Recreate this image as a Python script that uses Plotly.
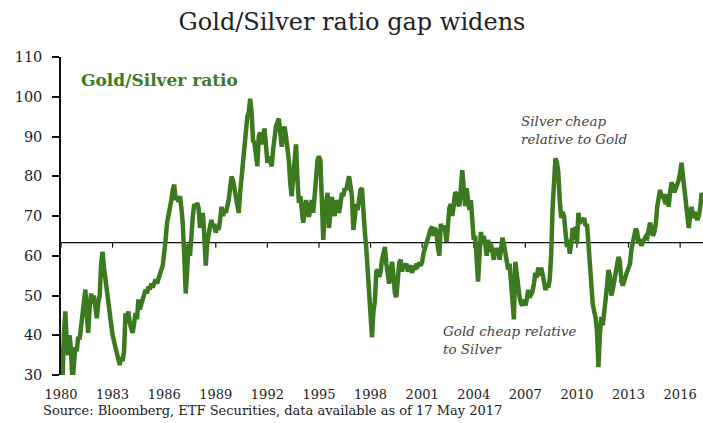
import plotly.graph_objects as go

# Monthly Gold/Silver ratio, Jan 1980 .. May 2017
start_year = 1980
ratio = [
    37, 28, 40, 46, 38, 35, 40, 36, 28, 33, 37, 36,            # 1980
    39.6, 39, 42, 44, 47, 51.5, 45, 40.6, 47, 50.5, 48, 50,    # 1981
    47, 44.3, 48, 50, 58, 61, 57, 54, 51, 47.5, 45, 42,        # 1982
    40, 38.5, 37, 35.5, 33.8, 32.5, 34.5, 33.5, 36, 45.5, 44, 46,  # 1983
    43, 42, 40.6, 43, 45.6, 44, 49, 46.5, 47.6, 48.5, 50, 51.4,    # 1984
    50.5, 52.2, 51.5, 53, 52, 53.5, 54, 53, 54.5, 55, 56.5, 57.5,  # 1985
    60, 64, 68.3, 70, 71, 74, 76.6, 77.9, 74, 75, 73.5, 75,        # 1986
    72, 68, 60, 50.5, 56, 63, 60, 67, 70, 73, 72, 73.3,            # 1987
    72, 67, 69.5, 70.8, 65, 57.5, 63, 66.5, 67.5, 69, 67, 68,      # 1988
    65.8, 67.5, 66.5, 69, 72.3, 70, 71.5, 70.8, 72, 74, 77, 79.9,  # 1989
    79, 77, 74.5, 72, 70.8, 75.8, 80, 83, 87, 92, 95, 96,          # 1990
    99.5, 96, 89, 88.4, 84, 82.5, 90, 91, 88, 90, 92, 88,          # 1991
    83.4, 85, 83, 82.5, 86.7, 90, 92.5, 93.5, 94.5, 91, 87.4, 91,  # 1992
    92.5, 90, 87, 84, 78, 75, 80, 84, 88, 79, 73.3, 75,            # 1993
    71.5, 68.3, 71, 74, 72, 69.8, 72, 74, 70.8, 76, 82.4, 84,      # 1994
    85, 84, 74, 64, 71, 74, 75.8, 67, 70, 74.8, 72, 70,            # 1995
    74, 72.5, 70.8, 73, 75.8, 75, 77, 76.5, 78.5, 80, 77.5, 75,    # 1996
    66.5, 70, 73, 71.5, 74, 76.6, 77, 69.8, 66, 62, 55, 50,        # 1997
    46, 39.5, 46, 48.5, 56, 56.5, 54.7, 56, 59, 61.5, 62.2, 58,    # 1998
    54, 53, 56, 58.5, 55, 50.5, 49.6, 55, 58.2, 59, 56, 58,        # 1999
    57.2, 58, 56, 57.5, 57, 55.7, 57.5, 56.5, 58, 57.5, 58.2, 57.5,  # 2000
    58.5, 60.7, 62, 63.2, 64, 65.5, 66.8, 67.3, 65, 67, 66, 62,      # 2001
    60, 68, 67, 67.5, 66.5, 63.5, 69, 72, 73, 70, 72.5, 76,          # 2002
    75.5, 73, 72.5, 76, 81.5, 77, 72.5, 77, 74, 71.5, 74, 67.5,      # 2003
    64, 65, 58, 53.5, 60, 66, 63, 65, 63, 60, 64, 61,                # 2004
    63, 61, 59, 62, 60, 62, 59, 61.5, 64.5, 63, 61, 59.5,            # 2005
    56.5, 58, 53, 47, 44, 58.5, 55, 51, 49.5, 48, 47.5, 49,          # 2006
    47.5, 49, 51.4, 49.5, 50.5, 51, 53, 55.7, 54.5, 57, 55, 57,      # 2007
    55.5, 54, 51.4, 52.5, 52, 54, 60, 72, 81, 84.5, 83.5, 81,        # 2008
    74, 69.5, 71, 70, 66, 62.2, 64, 60.5, 63, 67, 64, 67.3,          # 2009
    63, 70.8, 68, 69.5, 68.5, 69.5, 67.5, 68, 63.2, 58, 52, 48,      # 2010
    46, 44.5, 41, 32, 40, 44.6, 42.5, 45, 49, 52.5, 56.4, 55,        # 2011
    50, 51.5, 54, 56, 57.5, 59.7, 58.5, 53.5, 52.5, 54, 54.5, 56,    # 2012
    57, 58, 61.5, 63.5, 65.5, 66.8, 66, 63.2, 63.5, 62.5, 63.5, 64.5,  # 2013
    64.8, 64.5, 66, 68.3, 67, 65, 66, 68, 72.3, 74.8, 76.6, 74.5,      # 2014
    75.5, 74, 73, 75.5, 72.3, 76, 78.5, 77.5, 76, 77, 78, 79,          # 2015
    80.9, 83.4, 80, 76, 72, 68.5, 67, 70, 72.3, 69.5, 71, 70,          # 2016
    69, 70, 72, 75.8, 74.5,                                            # 2017
]
dates = [start_year + i / 12 for i in range(len(ratio))]

mean_level = 63.3
x_ticks = list(range(1980, 2017, 3))
y_ticks = list(range(30, 111, 10))

GREEN = "#3b7a1e"
SERIF = "DejaVu Serif"

fig = go.Figure()
fig.add_trace(go.Scatter(
    x=dates, y=ratio, mode="lines",
    line=dict(color=GREEN, width=4.5),
    showlegend=False, hoverinfo="skip",
))

W, H = 703, 423
ML, MT, MB = 61, 57, 48
plot_w = W - ML
plot_h = H - MT - MB

fig.update_layout(
    width=W, height=H,
    margin=dict(l=ML, r=0, t=MT, b=MB),
    paper_bgcolor="white", plot_bgcolor="white",
    font=dict(family=SERIF, color="#222"),
    title=dict(
        text="Gold/Silver ratio gap widens",
        x=352 / W, xanchor="center", xref="container",
        y=1 - 22 / H, yanchor="middle", yref="container",
        font=dict(family=SERIF, size=24, color="#222"),
    ),
    xaxis=dict(
        range=[1980, 2017.33],
        showline=False, ticks="outside", ticklen=7,
        tickcolor="rgba(0,0,0,0)",
        tickvals=x_ticks,
        tickfont=dict(family=SERIF, size=13, color="#222"),
        showgrid=False, zeroline=False,
    ),
    yaxis=dict(
        range=[30, 110],
        showline=True, linecolor="#111", linewidth=1.5,
        ticks="outside", ticklen=7, tickwidth=1.5, tickcolor="#111",
        tickvals=y_ticks, ticklabelstandoff=7,
        tickfont=dict(family=SERIF, size=14.5, color="#222"),
        showgrid=False, zeroline=False,
    ),
)

# long-run average line with the year ticks hanging from it
fig.add_shape(
    type="line", xref="paper", yref="y",
    x0=0, x1=1, y0=mean_level, y1=mean_level,
    line=dict(color="#111", width=1.2), layer="below",
)
for yr in x_ticks:
    fig.add_shape(
        type="line", xref="x", yref="y",
        x0=yr, x1=yr, ysizemode="pixel", yanchor=mean_level,
        y0=0, y1=-5,
        line=dict(color="#111", width=1.2), layer="below",
    )

fig.add_annotation(
    x=1981.05, y=104.2, xref="x", yref="y",
    text="<b>Gold/Silver ratio</b>", showarrow=False,
    xanchor="left", yanchor="middle",
    font=dict(family=SERIF, size=17, color=GREEN),
)
fig.add_annotation(
    x=2006.65, y=96.5, xref="x", yref="y",
    text="<i>Silver cheap<br>relative to Gold</i>", showarrow=False,
    xanchor="left", yanchor="top", align="left",
    font=dict(family=SERIF, size=13.5, color="#444"),
)
fig.add_annotation(
    x=2002.12, y=43.5, xref="x", yref="y",
    text="<i>Gold cheap relative<br>to Silver</i>", showarrow=False,
    xanchor="left", yanchor="top", align="left",
    font=dict(family=SERIF, size=13.5, color="#444"),
)
fig.add_annotation(
    x=(41 - ML) / plot_w, y=(H - MB - 410) / plot_h,
    xref="paper", yref="paper",
    text="Source: Bloomberg, ETF Securities, data available as of 17 May 2017",
    showarrow=False, xanchor="left", yanchor="middle",
    font=dict(family=SERIF, size=13, color="#222"),
)

fig.write_html(
    "out.html",
    config={"displayModeBar": False},
    post_script="document.body.style.margin='0';"
                "document.documentElement.style.overflow='hidden';",
)
